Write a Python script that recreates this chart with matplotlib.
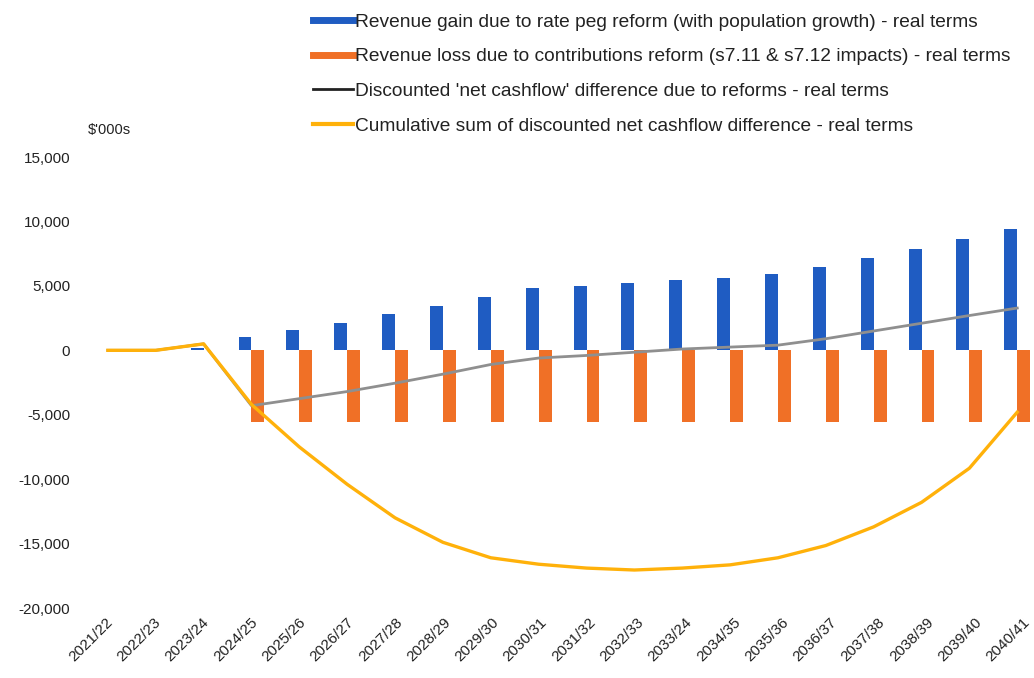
import numpy as np
import matplotlib
matplotlib.use("Agg")
import matplotlib.pyplot as plt
import matplotlib.transforms as mtransforms
from matplotlib.lines import Line2D
from matplotlib.ticker import FuncFormatter

plt.rcParams['font.family'] = ['Liberation Sans', 'DejaVu Sans']

years = ['2021/22', '2022/23', '2023/24', '2024/25', '2025/26', '2026/27', '2027/28',
         '2028/29', '2029/30', '2030/31', '2031/32', '2032/33', '2033/24', '2034/35',
         '2035/36', '2036/37', '2037/38', '2038/39', '2039/40', '2040/41']

# $'000s, real terms
rate_peg_gain = [0, 0, 200, 1000, 1550, 2150, 2800, 3450, 4100, 4800, 5000, 5200,
                 5450, 5650, 5900, 6450, 7130, 7830, 8600, 9380]
contrib_loss = [0, 0, 0, -5600, -5600, -5600, -5600, -5600, -5600, -5600, -5600, -5600,
                -5600, -5600, -5600, -5600, -5600, -5600, -5600, -5600]
net_cashflow = [0, 0, 500, -4300, -3750, -3200, -2550, -1850, -1100, -600, -400, -150,
                100, 250, 400, 900, 1500, 2100, 2700, 3280]
cumulative = [0, 0, 500, -4200, -7500, -10400, -13000, -14900, -16100, -16600, -16900,
              -17050, -16900, -16650, -16100, -15150, -13700, -11800, -9150, -4800]

blue = '#1f5cc2'
orange = '#f07026'
grey = '#8f8f8f'
gold = '#ffb10a'
txt = '#222222'

fig = plt.figure(figsize=(10.34, 6.78), dpi=100)
ax = fig.add_axes([0.0812, 0.1032, 0.9188, 0.6652])

x = np.arange(len(years))
w = 0.27
ax.bar(x - w / 2, rate_peg_gain, width=w, color=blue, zorder=2)
ax.bar(x + w / 2, contrib_loss, width=w, color=orange, zorder=2)
ax.plot(x, net_cashflow, color=grey, lw=2.0, zorder=3)
ax.plot(x, cumulative, color=gold, lw=2.4, zorder=4, solid_joinstyle='round')

ax.set_xlim(-0.5, 19.35)
ax.set_ylim(-20000, 15000)
ax.set_yticks(np.arange(-20000, 15001, 5000))
ax.yaxis.set_major_formatter(FuncFormatter(lambda v, p: f"{v:,.0f}"))
ax.set_xticks(x)
ax.set_xticklabels(years, rotation=45, ha='right', va='center', rotation_mode='anchor')
for s in ax.spines.values():
    s.set_visible(False)
ax.tick_params(axis='both', length=0, labelsize=11, colors=txt)
ax.tick_params(axis='y', pad=10)
ax.tick_params(axis='x', pad=9)
# nudge the slanted year labels so their ends sit just right of each category
# (done after tick_params, which resets the label transforms)
for i, lab in enumerate(ax.get_xticklabels()):
    dx = (2.5 + i * 0.42) / 100
    lab.set_transform(lab.get_transform() + mtransforms.ScaledTranslation(dx, 0, fig.dpi_scale_trans))

fig.text(0.085, 0.808, "$'000s", fontsize=10.5, color=txt, va='center')

handles = [Line2D([], [], color=blue, lw=5),
           Line2D([], [], color=orange, lw=5),
           Line2D([], [], color=txt, lw=2),
           Line2D([], [], color=gold, lw=3)]
labels = ['Revenue gain due to rate peg reform (with population growth) - real terms',
          'Revenue loss due to contributions reform (s7.11 & s7.12 impacts) - real terms',
          "Discounted 'net cashflow' difference due to reforms - real terms",
          'Cumulative sum of discounted net cashflow difference - real terms']
fig.legend(handles, labels, loc='upper left', bbox_to_anchor=(0.286, 1.006),
           frameon=False, fontsize=13.8, handlelength=2.1, handletextpad=0.1,
           labelspacing=0.9, labelcolor=txt)

fig.savefig('out.png', dpi=100)
